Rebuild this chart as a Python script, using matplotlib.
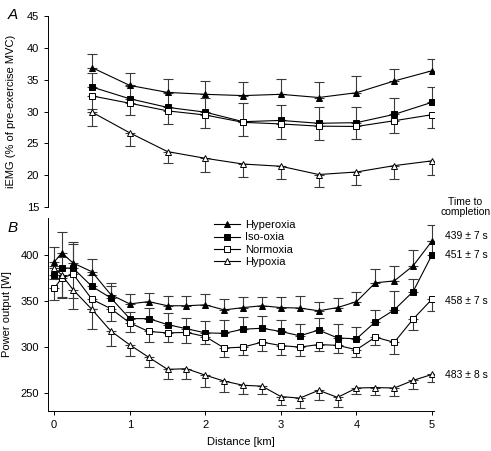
#!/usr/bin/env python3
"""iEMG and power output vs distance for four oxygen conditions (two panels)."""
import numpy as np
import matplotlib
matplotlib.use("Agg")
import matplotlib.pyplot as plt

plt.rcParams["font.family"] = ["Liberation Sans", "DejaVu Sans"]
plt.rcParams["font.size"] = 8

conditions = ["Hyperoxia", "Iso-oxia", "Normoxia", "Hypoxia"]
markers = {"Hyperoxia": "^", "Iso-oxia": "s", "Normoxia": "s", "Hypoxia": "^"}
filled = {"Hyperoxia": True, "Iso-oxia": True, "Normoxia": False, "Hypoxia": False}
err_up = {"Hyperoxia": True, "Iso-oxia": True, "Normoxia": False, "Hypoxia": False}

# panel A: iEMG (% of pre-exercise MVC)
dist_a = [0.5, 1.0, 1.5, 2.0, 2.5, 3.0, 3.5, 4.0, 4.5, 5.0]
emg = {
    "Hyperoxia": [36.9, 34.1, 33.0, 32.7, 32.5, 32.7, 32.2, 32.95, 34.8, 36.4],
    "Iso-oxia": [33.85, 32.0, 30.65, 29.9, 28.4, 28.6, 28.15, 28.25, 29.55, 31.45],
    "Normoxia": [32.45, 31.3, 30.1, 29.45, 28.3, 28.05, 27.7, 27.65, 28.55, 29.5],
    "Hypoxia": [29.9, 26.65, 23.7, 22.65, 21.75, 21.4, 20.1, 20.5, 21.5, 22.25],
}
emg_err = {
    "Hyperoxia": [2.2, 1.9, 2.1, 2.1, 2.2, 2.35, 2.5, 2.55, 1.8, 1.9],
    "Iso-oxia": [2.15, 2.0, 2.2, 2.3, 2.9, 2.5, 2.5, 2.4, 2.65, 2.45],
    "Normoxia": [2.0, 1.8, 2.0, 2.0, 2.1, 2.35, 2.2, 2.0, 1.95, 2.15],
    "Hypoxia": [2.1, 2.0, 1.8, 2.1, 2.0, 2.0, 1.9, 2.05, 2.1, 2.2],
}

# panel B: power output [W]
dist_b = [0, 0.1, 0.25, 0.5, 0.75, 1.0, 1.25, 1.5, 1.75, 2.0, 2.25,
          2.5, 2.75, 3.0, 3.25, 3.5, 3.75, 4.0, 4.25, 4.5, 4.75, 5.0]
power = {
    "Hyperoxia": [392, 402, 391, 381.5, 356.5, 346.5, 349, 344.5, 344.5, 345.5, 340,
                  342.5, 344.5, 342.5, 342, 339, 342.5, 349, 369.5, 371.5, 388, 415],
    "Iso-oxia": [378, 385.5, 385.5, 365.5, 353, 330.5, 330.5, 324, 319.5, 315, 314.5,
                 319, 320, 316.5, 311.8, 318, 309.5, 308.5, 327, 340, 360, 400],
    "Normoxia": [363.5, 374.5, 379, 351.5, 341.3, 325.9, 316.5, 315, 315.5, 311, 298.5,
                 299.5, 304.9, 301.2, 299.5, 302.3, 301.4, 296.7, 310.3, 304.7, 330, 351.7],
    "Hypoxia": [385.5, 378, 362, 340.5, 317, 302, 288.5, 275.3, 276, 269, 262.5,
                258, 257, 245.7, 244, 252.5, 244.8, 255, 255.5, 255, 263.3, 269.8],
}
power_err = {
    "Hyperoxia": [16, 23, 23, 14, 13, 11, 9, 11, 11, 12, 12,
                  11, 10, 12, 13, 10, 10, 10, 15, 16, 17, 17],
    "Iso-oxia": [10, 12, 26, 12, 13, 7, 12, 13, 12, 13, 15,
                 13, 13, 13, 13, 13, 15, 13, 13, 21, 14, 15],
    "Normoxia": [12.5, 22, 26, 10, 13, 10, 11, 10, 11, 8, 10,
                 9, 9.5, 10, 10, 7, 8, 8, 9, 13, 12, 13],
    "Hypoxia": [12, 24, 21, 21, 16, 12, 11, 11, 11, 13, 12,
                9, 8, 9, 11, 10, 10, 6, 8, 9, 9, 8],
}

finish_times = ["439 ± 7 s", "451 ± 7 s", "458 ± 7 s", "483 ± 8 s"]
finish_y = [420, 400, 350, 269]  # data-y where the labels sit


def draw(ax, x, vals, errs):
    for c in conditions:
        y = np.array(vals[c])
        e = np.array(errs[c])
        zeros = np.zeros_like(e)
        yerr = [zeros, e] if err_up[c] else [e, zeros]
        ax.errorbar(x, y, yerr=yerr, fmt="none", ecolor="#3a3a3a",
                    elinewidth=0.8, capsize=3.5, capthick=0.8, zorder=2)
    for c in conditions:
        ax.plot(x, vals[c], color="black", lw=0.8, marker=markers[c], ms=4.8,
                mfc="black" if filled[c] else "white", mec="black", mew=0.7,
                label=c, zorder=3)


fig = plt.figure(figsize=(4.91, 4.51), dpi=100)
ax_a = fig.add_axes([0.098, 0.541, 0.785, 0.4235])
ax_b = fig.add_axes([0.098, 0.0887, 0.785, 0.428])

draw(ax_a, dist_a, emg, emg_err)
draw(ax_b, dist_b, power, power_err)

for ax in (ax_a, ax_b):
    ax.spines["top"].set_visible(False)
    ax.spines["right"].set_visible(False)
    ax.set_xlim(-0.08, 5.02)
    ax.tick_params(direction="out", length=3, width=0.7, labelsize=8)
    ax.spines["left"].set_linewidth(0.7)
    ax.spines["bottom"].set_linewidth(0.7)

ax_a.set_ylim(15, 45)
ax_a.set_yticks(range(15, 46, 5))
ax_a.spines["bottom"].set_visible(False)
ax_a.set_xticks([])
ax_a.set_ylabel("iEMG (% of pre-exercise MVC)", fontsize=8, labelpad=8)

ax_b.set_ylim(230, 440)
ax_b.set_yticks([250, 300, 350, 400])
ax_b.set_xticks(range(0, 6))
ax_b.set_xlabel("Distance [km]", fontsize=8, labelpad=5)
ax_b.set_ylabel("Power output [W]", fontsize=8, labelpad=6)

ax_b.legend(loc="upper left", bbox_to_anchor=(0.405, 1.04), frameon=False,
            fontsize=8, handlelength=2.3, handletextpad=0.5, labelspacing=0.2)

for txt, yv in zip(finish_times, finish_y):
    ax_b.text(5.17, yv, txt, fontsize=7.5, va="center", ha="left", clip_on=False)
ax_b.text(1.083, 1.057, "Time to\ncompletion", transform=ax_b.transAxes,
          fontsize=7.5, ha="center", va="center", linespacing=1.05)

fig.text(0.016, 0.982, "A", fontsize=11, style="italic", va="top")
fig.text(0.016, 0.51, "B", fontsize=11, style="italic", va="top")

fig.savefig("out.png", dpi=100)
